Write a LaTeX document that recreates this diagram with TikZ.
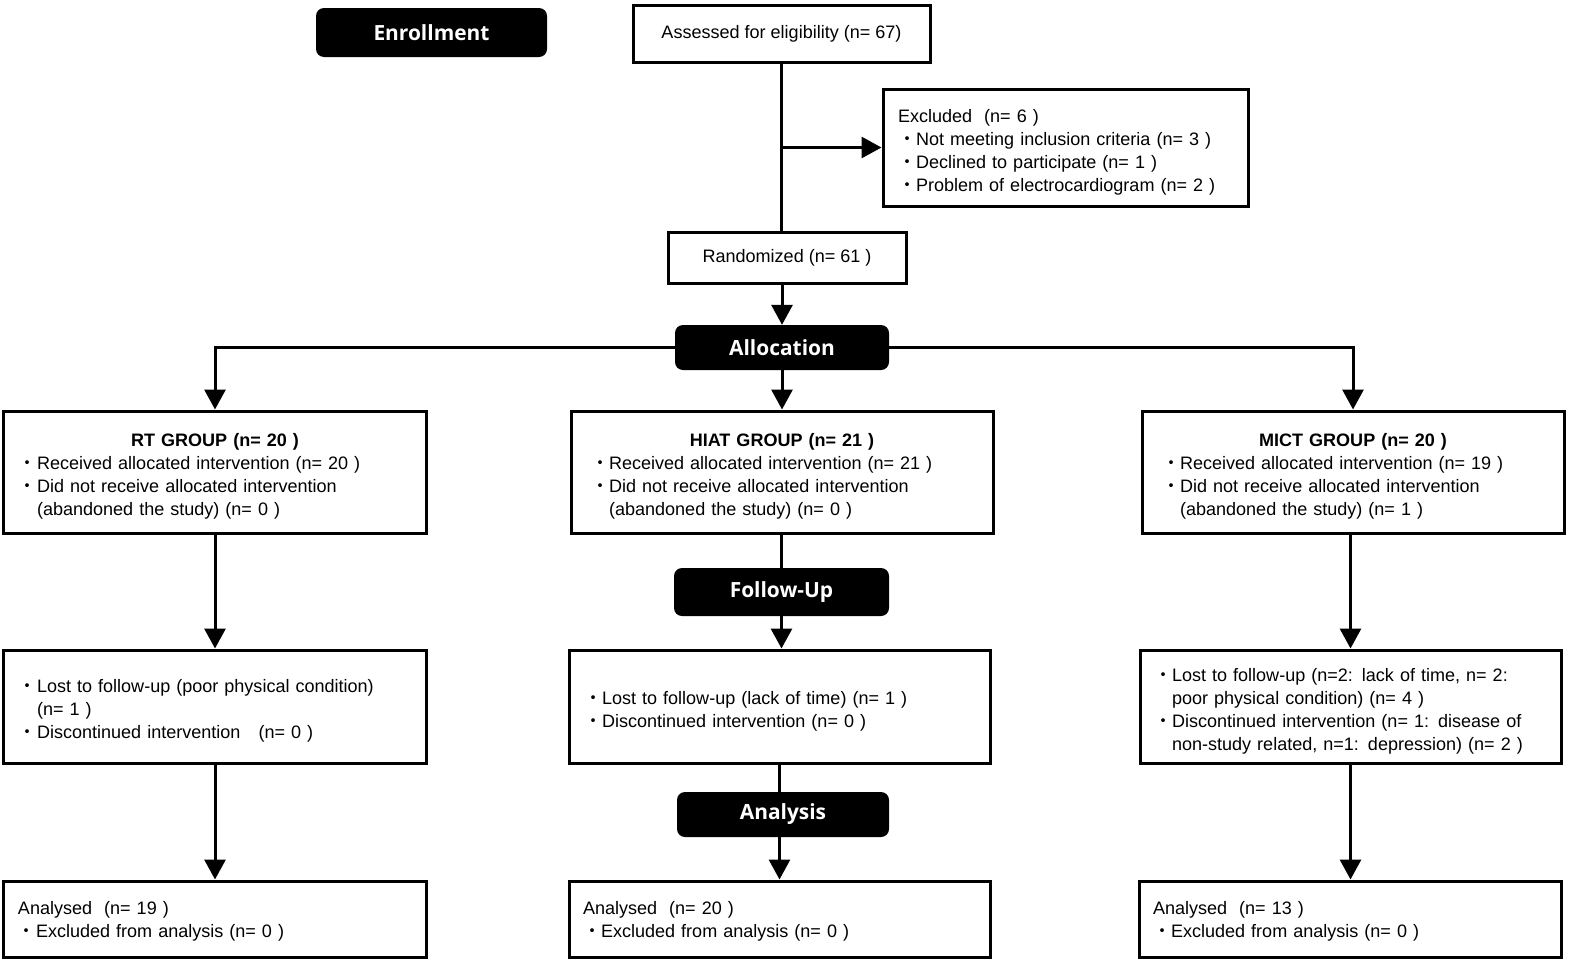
\documentclass[tikz,border=0pt]{standalone}
\usepackage{fontspec}
\setmainfont{Liberation Sans}
\newfontfamily\cjk{Noto Sans CJK JP}
\newfontfamily\hdfont{Open Sans}
\usetikzlibrary{arrows.meta}
\newcommand\bul{{\cjk ・}}
\newcommand\ind{\hspace*{1em}}
\begin{document}
\begin{tikzpicture}[x=1bp,y=-1bp,
 box/.style={draw, line width=3bp, inner sep=0pt, align=left, font=\fontsize{18.1}{23.1}\selectfont},
 mbox/.style={box, execute at begin node={\rule{0pt}{22bp}}},
 sbox/.style={box, execute at begin node={\rule{0pt}{17bp}}},
 stage/.style={fill=black, rounded corners=8bp, text=white, font=\hdfont\bfseries\fontsize{21}{25}\selectfont, inner sep=0pt},
 arr/.style={line width=3bp, -{Triangle[length=20bp,width=21bp]}},
 ln/.style={line width=3bp}]
\useasboundingbox (0,0) rectangle (1575,962);
\node[stage, minimum width=231bp, minimum height=49bp] (enr) at (431.5,32.5) {Enrollment};
\node[box, minimum width=297bp, minimum height=57bp] (assess) at (781.5,33.5) {Assessed for eligibility (n= 67)};
\node[mbox, minimum width=365bp, minimum height=117bp, text width=335bp] (excl) at (1065.5,147.5)
 {Excluded\ \ (n= 6 )\\
  \bul Not meeting inclusion criteria (n= 3 )\\
  \bul Declined to participate (n= 1 )\\
  \bul Problem of electrocardiogram (n= 2 )};
\node[box, minimum width=238bp, minimum height=51bp] (rand) at (787,257.5) {Randomized (n= 61 )};
\node[stage, minimum width=214bp, minimum height=45bp] (alloc) at (782,347.5) {Allocation};
\node[mbox, minimum width=422bp, minimum height=122bp, text width=392bp] (rt) at (215,472)
 {\hbox to\hsize{\hss\bfseries RT GROUP (n= 20 )\hss}\\
  \bul Received allocated intervention (n= 20 )\\
  \bul Did not receive allocated intervention\\
  \ind(abandoned the study) (n= 0 )};
\node[mbox, minimum width=422bp, minimum height=122bp, text width=382bp] (hiat) at (782,472)
 {\hbox to\hsize{\hss\bfseries HIAT GROUP (n= 21 )\hss}\\
  \bul Received allocated intervention (n= 21 )\\
  \bul Did not receive allocated intervention\\
  \ind(abandoned the study) (n= 0 )};
\node[mbox, minimum width=422bp, minimum height=122bp, text width=382bp] (mict) at (1353,472)
 {\hbox to\hsize{\hss\bfseries MICT GROUP (n= 20 )\hss}\\
  \bul Received allocated intervention (n= 19 )\\
  \bul Did not receive allocated intervention\\
  \ind(abandoned the study) (n= 1 )};
\node[stage, minimum width=215bp, minimum height=48bp] (fu) at (781.5,592) {Follow-Up};
\node[mbox, minimum width=422bp, minimum height=113bp, text width=392bp] (rtf) at (215,706.5)
 {\bul Lost to follow-up (poor physical condition)\\
  \ind(n= 1 )\\
  \bul Discontinued intervention\ \ \ (n= 0 )};
\node[mbox, minimum width=421bp, minimum height=113bp, text width=391bp] (hiatf) at (779.5,706.5)
 {\bul Lost to follow-up (lack of time) (n= 1 )\\
  \bul Discontinued intervention (n= 0 )};
\node[mbox, minimum width=421bp, minimum height=113bp, text width=393bp] (mictf) at (1350.5,706.5)
 {\bul Lost to follow-up (n=2: lack of time, n= 2:\\
  \ind poor physical condition) (n= 4 )\\
  \bul Discontinued intervention (n= 1: disease of\\
  \ind non-study related, n=1: depression) (n= 2 )};
\node[stage, minimum width=212bp, minimum height=45bp] (an) at (783,814.5) {Analysis};
\node[sbox, minimum width=422bp, minimum height=76bp, text width=394bp] (rta) at (215,919)
 {Analysed\ \ (n= 19 )\\
  \bul Excluded from analysis (n= 0 )};
\node[sbox, minimum width=421bp, minimum height=76bp, text width=393bp] (hiata) at (779.5,919)
 {Analysed\ \ (n= 20 )\\
  \bul Excluded from analysis (n= 0 )};
\node[sbox, minimum width=422bp, minimum height=76bp, text width=394bp] (micta) at (1350,919)
 {Analysed\ \ (n= 13 )\\
  \bul Excluded from analysis (n= 0 )};
% connectors
\draw[ln] (assess.south) -- (assess.south |- rand.north);
\draw[arr] (assess.south |- excl.west) -- (excl.west);
\draw[arr] (alloc.north |- rand.south) -- (alloc.north);
\draw[arr] (alloc.west) -| (rt.north);
\draw[arr] (alloc.east) -| (mict.north);
\draw[arr] (alloc.south) -- (hiat.north);
\draw[arr] (rt.south) -- (rtf.north);
\draw[ln] (fu.north |- hiat.south) -- (fu.north);
\draw[arr] (fu.south) -- (fu.south |- hiatf.north);
\draw[arr] (mictf.north |- mict.south) -- (mictf.north);
\draw[arr] (rtf.south) -- (rta.north);
\draw[ln] (hiatf.south) -- (hiatf.south |- an.north);
\draw[arr] (hiatf.south |- an.south) -- (hiatf.south |- hiata.north);
\draw[arr] (mictf.south) -- (mictf.south |- micta.north);
\end{tikzpicture}
\end{document}
